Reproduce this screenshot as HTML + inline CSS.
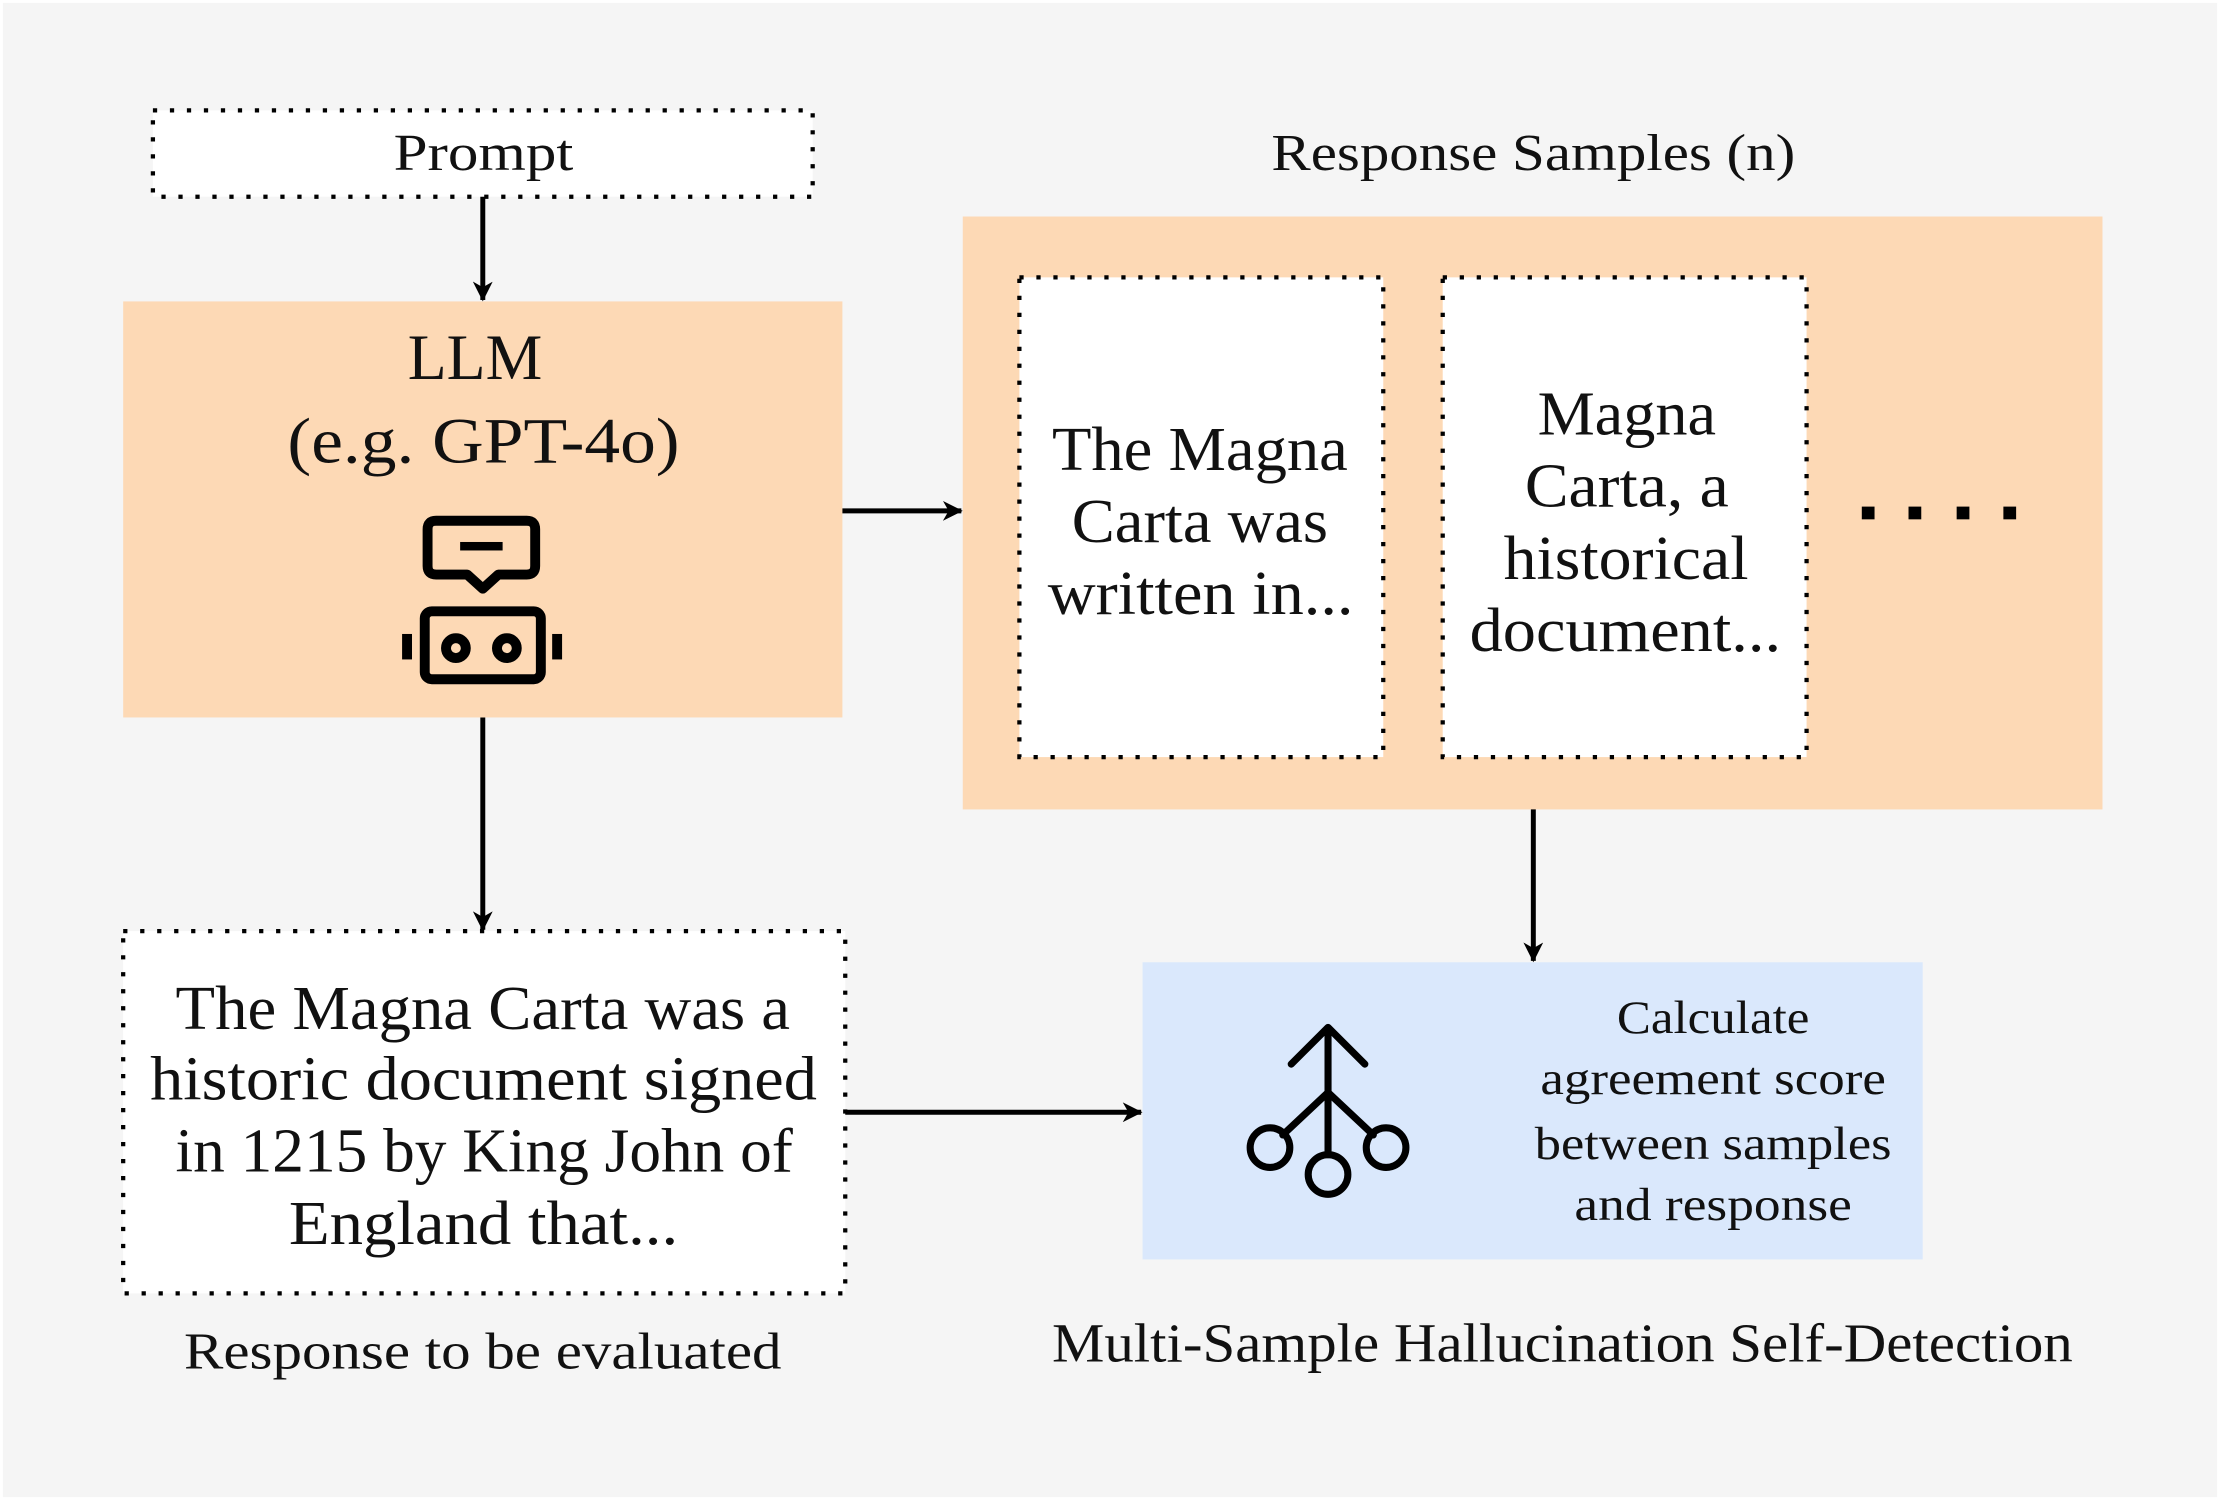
<!DOCTYPE html>
<html><head><meta charset="utf-8"><style>
html,body{margin:0;padding:0;background:#f5f5f5;}
svg{display:block;}
text{font-family:"Liberation Serif",serif;fill:#111;}
</style></head><body>
<svg width="2220" height="1500" viewBox="0 0 1568 1060" preserveAspectRatio="none" xmlns="http://www.w3.org/2000/svg">
<defs>
<marker id="a" markerWidth="14" markerHeight="14" refX="13" refY="7" orient="auto" markerUnits="userSpaceOnUse" viewBox="0 0 14 14">
<path d="M0,0 L14,7 L0,14 L4,7 Z" fill="#000"/>
</marker>
</defs>
<rect x="0" y="0" width="1568" height="1060" fill="#f5f5f5"/>
<rect x="1" y="1" width="1566" height="1058" fill="none" stroke="#fff" stroke-width="2"/>
<g stroke="#000" stroke-width="3" stroke-dasharray="3 9" fill="#fff">
<rect x="108" y="78" width="466" height="61"/>
<rect x="87" y="658" width="510" height="256"/>
</g>
<g lengthAdjust="spacingAndGlyphs">
<text x="278" y="120" font-size="37" textLength="127" lengthAdjust="spacingAndGlyphs">Prompt</text>
<rect x="87" y="213" width="508" height="294" fill="#fdd9b5"/>
<text x="288" y="268" font-size="46" textLength="95" lengthAdjust="spacingAndGlyphs">LLM</text>
<text x="203" y="327" font-size="46" textLength="277" lengthAdjust="spacingAndGlyphs">(e.g. GPT-4o)</text>
</g>
<g stroke="#000" stroke-width="7" fill="none" stroke-linejoin="round">
<path d="M308,368 H372 Q378,368 378,374 V400 Q378,406 372,406 H352 L341,416 L330,406 H308 Q302,406 302,400 V374 Q302,368 308,368 Z"/>
<rect x="300" y="432" width="82" height="48" rx="5"/>
<circle cx="322" cy="458" r="7"/>
<circle cx="358" cy="458" r="7"/>
</g>
<rect x="325" y="383" width="30" height="6" fill="#000"/>
<rect x="284" y="448" width="7" height="18" fill="#000"/>
<rect x="390" y="448" width="7" height="18" fill="#000"/>
<text x="898" y="120" font-size="37" textLength="370" lengthAdjust="spacingAndGlyphs">Response Samples (n)</text>
<rect x="680" y="153" width="805" height="419" fill="#fdd9b5"/>
<g stroke="#000" stroke-width="3" stroke-dasharray="3 9" fill="#fff">
<rect x="720" y="196" width="257" height="339"/>
<rect x="1019" y="196" width="257" height="339"/>
</g>
<g font-size="44">
<text x="743" y="332" textLength="209" lengthAdjust="spacingAndGlyphs">The Magna</text>
<text x="757" y="383" textLength="181" lengthAdjust="spacingAndGlyphs">Carta was</text>
<text x="740" y="434" textLength="216" lengthAdjust="spacingAndGlyphs">written in...</text>
<text x="1086" y="307" textLength="126" lengthAdjust="spacingAndGlyphs">Magna</text>
<text x="1077" y="358" textLength="144" lengthAdjust="spacingAndGlyphs">Carta, a</text>
<text x="1062" y="409" textLength="173" lengthAdjust="spacingAndGlyphs">historical</text>
<text x="1038" y="460" textLength="220" lengthAdjust="spacingAndGlyphs">document...</text>
</g>
<g fill="#000">
<rect x="1315" y="358" width="9" height="9"/>
<rect x="1348" y="358" width="9" height="9"/>
<rect x="1382" y="358" width="9" height="9"/>
<rect x="1415" y="358" width="9" height="9"/>
</g>
<g font-size="44">
<text x="124" y="727" textLength="434" lengthAdjust="spacingAndGlyphs">The Magna Carta was a</text>
<text x="106" y="777" textLength="471" lengthAdjust="spacingAndGlyphs">historic document signed</text>
<text x="124" y="828" textLength="436" lengthAdjust="spacingAndGlyphs">in 1215 by King John of</text>
<text x="204" y="879" textLength="275" lengthAdjust="spacingAndGlyphs">England that...</text>
</g>
<text x="130" y="967" font-size="37" textLength="422" lengthAdjust="spacingAndGlyphs">Response to be evaluated</text>
<rect x="807" y="680" width="551" height="210" fill="#dae8fc"/>
<g font-size="33">
<text x="1142" y="730" textLength="136" lengthAdjust="spacingAndGlyphs">Calculate</text>
<text x="1088" y="773" textLength="244" lengthAdjust="spacingAndGlyphs">agreement score</text>
<text x="1084" y="819" textLength="252" lengthAdjust="spacingAndGlyphs">between samples</text>
<text x="1112" y="862" textLength="196" lengthAdjust="spacingAndGlyphs">and response</text>
</g>
<g stroke="#000" stroke-width="5" fill="none" stroke-linecap="round" stroke-linejoin="round">
<path d="M938,728 V816"/>
<path d="M912,752 L938,726 L964,752"/>
<path d="M938,772 L906,802"/>
<path d="M938,772 L970,802"/>
<circle cx="897" cy="811" r="14"/>
<circle cx="979" cy="811" r="14"/>
<circle cx="938" cy="830" r="14"/>
</g>
<text x="743" y="962" font-size="39" textLength="721" lengthAdjust="spacingAndGlyphs">Multi-Sample Hallucination Self-Detection</text>
<g stroke="#000" stroke-width="3.5" fill="none" marker-end="url(#a)">
<line x1="341" y1="139" x2="341" y2="212"/>
<line x1="595" y1="361" x2="679" y2="361"/>
<line x1="1083" y1="572" x2="1083" y2="679"/>
<line x1="341" y1="507" x2="341" y2="657"/>
<line x1="597" y1="786" x2="806" y2="786"/>
</g>
</svg>
</body></html>
